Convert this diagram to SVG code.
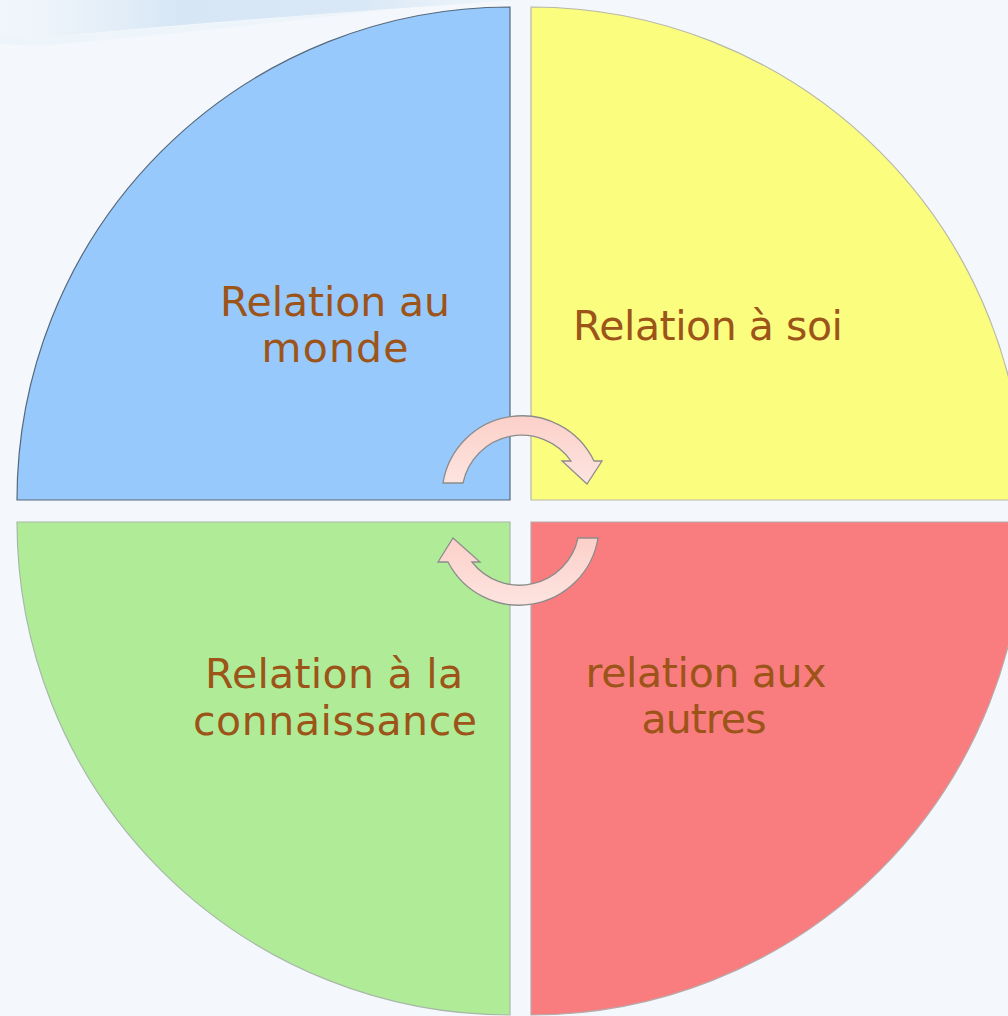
<svg xmlns="http://www.w3.org/2000/svg" width="1008" height="1016" viewBox="0 0 1008 1016">
<defs>
<linearGradient id="arrowFill" x1="0" y1="0" x2="0" y2="1">
<stop offset="0" stop-color="#fcd0c9"/>
<stop offset="1" stop-color="#fde4e0"/>
</linearGradient>
<linearGradient id="swoosh" x1="0" y1="0" x2="1" y2="0">
<stop offset="0" stop-color="#eef4fa" stop-opacity="0.5"/>
<stop offset="0.35" stop-color="#d6e6f5"/>
<stop offset="0.7" stop-color="#d9e8f6"/>
<stop offset="1" stop-color="#e9f1f9" stop-opacity="0.4"/>
</linearGradient>
</defs>
<style>
.q { stroke-width: 1.2; }
.lbl { font-family: "DejaVu Sans", "Liberation Sans", sans-serif; font-size: 41px; fill: #9c5419; text-anchor: middle; }
.arrow { fill: url(#arrowFill); stroke: #8c8c8c; stroke-width: 1.3; stroke-linejoin: miter; }
</style>
<rect x="0" y="0" width="1008" height="1016" fill="#f4f8fc"/>
<path d="M0,0 L520,0 Q300,14 35,38 Q15,38 0,32 Z" fill="url(#swoosh)"/>
<path d="M0,32 Q15,38 35,38 Q200,24 400,8 Q220,30 40,46 L0,44 Z" fill="#eaf2fa" opacity="0.7"/>

<g id="node-monde">
<path class="q" d="M510,500 L17,500 A493,493 0 0 1 510,7 Z" fill="#97c9fd" stroke="#56687a"/>
<text class="lbl" x="335" y="316" textLength="230">Relation au</text>
<text class="lbl" x="335" y="362" textLength="147">monde</text>
</g>
<g id="node-soi">
<path class="q" d="M531,500 L531,7 A493,493 0 0 1 1024,500 Z" fill="#fbfd7f" stroke="#b8b8a8"/>
<text class="lbl" x="708" y="340" textLength="270">Relation à soi</text>
</g>
<g id="node-connaissance">
<path class="q" d="M510,522 L510,1015 A493,493 0 0 1 17,522 Z" fill="#b0ec98" stroke="#a8b8a8"/>
<text class="lbl" x="334" y="688" textLength="258">Relation à la</text>
<text class="lbl" x="335" y="735" textLength="284">connaissance</text>
</g>
<g id="node-autres">
<path class="q" d="M531,522 L1024,522 A493,493 0 0 1 531,1015 Z" fill="#f97d7e" stroke="#b8a8a8"/>
<text class="lbl" x="706" y="687" textLength="241">relation aux</text>
<text class="lbl" x="704" y="733" textLength="125">autres</text>
</g>

<g id="connectors">
<path class="arrow" d="M443,483 A80,80 0 0 1 594,461 L602,461 L587,484 L562,461 L571,461 A60,60 0 0 0 463,483 Z"/>
<path class="arrow" d="M598,538 A80,80 0 0 1 448,562 L438,562 L453,538 L480,562 L472,562 A60,60 0 0 0 578,538 Z"/>
</g>
</svg>
